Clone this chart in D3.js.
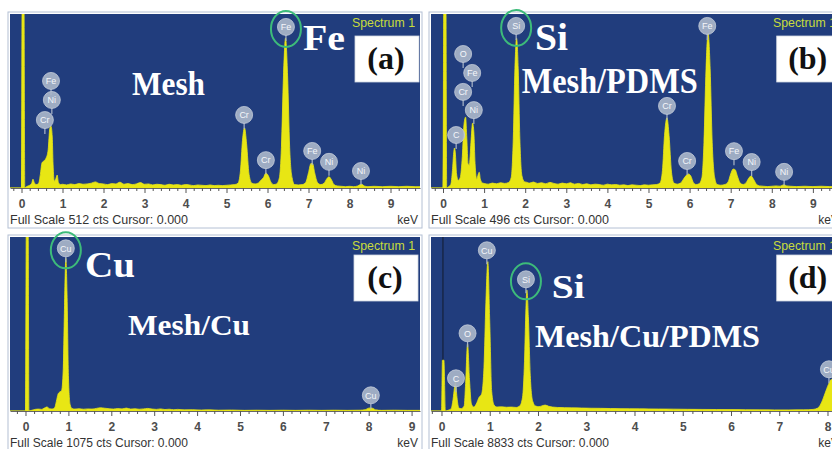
<!DOCTYPE html>
<html>
<head>
<meta charset="utf-8">
<script src="https://cdn.jsdelivr.net/npm/d3@7"></script>
<style>
  html, body { margin: 0; padding: 0; background: #fff; }
  svg { display: block; }
</style>
</head>
<body>
<svg id="chart" width="832" height="449"></svg>
<script>
// ---------- data ----------
const panelTags = ["(a)", "(b)", "(c)", "(d)"];
const sampleNames = ["Mesh", "Mesh/PDMS", "Mesh/Cu", "Mesh/Cu/PDMS"];
const keyElements = ["Fe", "Si", "Cu", "Si"];
const fullScaleCounts = [512, 496, 1075, 8833];
const tickLabels = [0, 1, 2, 3, 4, 5, 6, 7, 8, 9];
const spectrumTitle = "Spectrum 1";

// EDS spectra: [energy keV, counts]
const spectrumA = [
  [-0.28, 0], [0.0, 0], [0.015, 560], [0.06, 560], [0.08, 0], [0.12, 4], [0.2, 8], [0.25, 14],
  [0.28, 26], [0.31, 16], [0.36, 10], [0.42, 14], [0.46, 40], [0.5, 74], [0.55, 80], [0.6, 88],
  [0.65, 112], [0.69, 175], [0.72, 182], [0.75, 150], [0.77, 70], [0.8, 20], [0.84, 28], [0.87, 38],
  [0.9, 16], [0.95, 10],
  [1.0, 11], [1.1, 9], [1.2, 12], [1.3, 10], [1.4, 13], [1.5, 11], [1.6, 12], [1.7, 14], [1.8, 18],
  [1.9, 13], [2.0, 12], [2.1, 10], [2.2, 13], [2.3, 12], [2.4, 17], [2.5, 11], [2.6, 13], [2.7, 10],
  [2.8, 12], [2.9, 16], [3.0, 11], [3.1, 12], [3.2, 9], [3.3, 11], [3.4, 10], [3.5, 8], [3.6, 11],
  [3.7, 9], [3.8, 10], [3.9, 8], [4.0, 10], [4.1, 9], [4.2, 7], [4.3, 9], [4.4, 8], [4.5, 7], [4.6, 9],
  [4.7, 7], [4.8, 8], [4.9, 7], [5.0, 8], [5.1, 9], [5.2, 10],
  [5.28, 14], [5.34, 50], [5.39, 140], [5.44, 177], [5.49, 130], [5.55, 40], [5.62, 14], [5.7, 12],
  [5.78, 15], [5.85, 24], [5.9, 30], [5.96, 44], [6.02, 36], [6.08, 18], [6.15, 10], [6.22, 12],
  [6.29, 30], [6.34, 120], [6.39, 330], [6.44, 441], [6.49, 330], [6.54, 120], [6.6, 30], [6.66, 10],
  [6.75, 9], [6.85, 10], [6.93, 16], [7.0, 45], [7.06, 72], [7.1, 72], [7.15, 45], [7.22, 16],
  [7.3, 10], [7.38, 14], [7.44, 26], [7.5, 33], [7.56, 24], [7.62, 10], [7.7, 6], [7.8, 5], [7.9, 4],
  [8.0, 5], [8.1, 4], [8.2, 6], [8.26, 10], [8.3, 11], [8.36, 6], [8.45, 4], [8.6, 5], [8.8, 4],
  [9.0, 5], [9.2, 4], [9.4, 5], [9.6, 4], [9.72, 4]
];
const spectrumB = [
  [-0.3, 0], [0.0, 0], [0.02, 560], [0.07, 560], [0.09, 0], [0.14, 4], [0.19, 10], [0.23, 50],
  [0.26, 100], [0.28, 114], [0.3, 100], [0.33, 40], [0.37, 22], [0.42, 30], [0.47, 90], [0.51, 180],
  [0.55, 202], [0.58, 140], [0.61, 70], [0.64, 65], [0.68, 130], [0.72, 185], [0.75, 160], [0.78, 70],
  [0.82, 25], [0.86, 40], [0.88, 45], [0.91, 25], [0.96, 14],
  [1.0, 13], [1.1, 11], [1.2, 14], [1.3, 12], [1.4, 15], [1.5, 13], [1.6, 16],
  [1.66, 30], [1.71, 140], [1.75, 340], [1.79, 427], [1.83, 340], [1.87, 140], [1.92, 35], [1.98, 18],
  [2.05, 16], [2.1, 14], [2.2, 17], [2.3, 13], [2.4, 15], [2.5, 12], [2.6, 16], [2.7, 13], [2.8, 11],
  [2.9, 14], [3.0, 12], [3.1, 15], [3.2, 11], [3.3, 13], [3.4, 10], [3.5, 12], [3.6, 9], [3.7, 11],
  [3.8, 10], [3.9, 8], [4.0, 11], [4.1, 9], [4.2, 10], [4.3, 8], [4.4, 9], [4.5, 7], [4.6, 9], [4.7, 8],
  [4.8, 7], [4.9, 9], [5.0, 8], [5.1, 9], [5.2, 10],
  [5.28, 14], [5.34, 50], [5.39, 150], [5.45, 200], [5.5, 150], [5.56, 45], [5.62, 14], [5.7, 11],
  [5.78, 14], [5.85, 25], [5.92, 36], [5.97, 40], [6.03, 34], [6.09, 16], [6.16, 10], [6.23, 12],
  [6.3, 30], [6.35, 130], [6.4, 340], [6.45, 442], [6.5, 340], [6.55, 130], [6.61, 30], [6.67, 10],
  [6.76, 8], [6.86, 10], [6.94, 18], [7.0, 40], [7.06, 54], [7.11, 52], [7.16, 35], [7.23, 14],
  [7.3, 10], [7.38, 16], [7.45, 30], [7.5, 34], [7.56, 24], [7.63, 10], [7.7, 6], [7.8, 5], [7.9, 4],
  [8.0, 5], [8.1, 6], [8.2, 5], [8.26, 8], [8.3, 9], [8.36, 6], [8.45, 5], [8.6, 4], [8.8, 5],
  [9.0, 4], [9.2, 5], [9.4, 4], [9.7, 4]
];
const spectrumC = [
  [-0.37, 0], [0.0, 0], [0.02, 1200], [0.06, 1200], [0.08, 0], [0.14, 4], [0.22, 10], [0.3, 12],
  [0.38, 10], [0.44, 18], [0.5, 25], [0.56, 14], [0.62, 12], [0.68, 20], [0.72, 60], [0.76, 105],
  [0.8, 118], [0.84, 125], [0.88, 260], [0.91, 650], [0.94, 943], [0.97, 700], [1.0, 220], [1.04, 40],
  [1.08, 16],
  [1.15, 12], [1.25, 14], [1.35, 11], [1.45, 13], [1.55, 12], [1.65, 16], [1.75, 20], [1.85, 17],
  [1.95, 14], [2.05, 12], [2.15, 15], [2.25, 13], [2.35, 18], [2.45, 12], [2.55, 14], [2.65, 11],
  [2.75, 13], [2.85, 16], [2.95, 12], [3.05, 10], [3.15, 13], [3.25, 9], [3.35, 11], [3.45, 8],
  [3.55, 10], [3.7, 7], [3.9, 8], [4.1, 6], [4.3, 7], [4.5, 5], [4.8, 6], [5.1, 4], [5.4, 5], [5.7, 4],
  [6.0, 5], [6.3, 4], [6.6, 5], [6.9, 4], [7.2, 5], [7.5, 4], [7.8, 5], [7.92, 8], [7.98, 16],
  [8.04, 19], [8.1, 16], [8.16, 7], [8.3, 4], [8.6, 5], [8.9, 4], [9.2, 4]
];
const spectrumD = [
  [-0.22, 0], [0.0, 0], [0.02, 2580], [0.05, 2580], [0.08, 0], [0.14, 40], [0.2, 120], [0.24, 600],
  [0.27, 1200], [0.29, 1475], [0.32, 700], [0.36, 150], [0.41, 120], [0.47, 250], [0.5, 1400],
  [0.54, 3420], [0.58, 1600], [0.62, 350], [0.67, 200], [0.72, 350], [0.78, 700], [0.83, 850],
  [0.88, 2200], [0.92, 5500], [0.96, 7580], [1.0, 4500], [1.04, 1000], [1.09, 300], [1.15, 200],
  [1.25, 210], [1.35, 190], [1.45, 200], [1.55, 180],
  [1.62, 250], [1.68, 700], [1.72, 2500], [1.75, 5200], [1.77, 6140], [1.8, 4800], [1.84, 1800],
  [1.89, 500], [1.95, 250],
  [2.02, 220], [2.08, 260], [2.15, 300], [2.22, 240], [2.3, 200], [2.4, 180], [2.55, 170], [2.7, 160],
  [2.9, 150], [3.1, 140], [3.3, 135], [3.5, 125], [3.7, 120], [3.9, 115], [4.1, 110], [4.3, 105],
  [4.5, 100], [4.8, 95], [5.1, 85], [5.4, 80], [5.7, 75], [6.0, 70], [6.3, 65], [6.6, 60], [6.9, 55],
  [7.2, 55], [7.5, 60], [7.7, 80], [7.8, 150], [7.88, 450], [7.95, 900], [8.02, 1350], [8.08, 1600],
  [8.14, 1550], [8.2, 1000], [8.28, 400]
];

// Peak identification markers: [element, energy keV, marker height in counts]
const peakLabelsA = [
  ["Fe", 0.72, 315], ["Ni", 0.74, 259], ["Cr", 0.57, 200], ["Cr", 5.43, 215], ["Cr", 5.96, 82],
  ["Fe", 6.45, 474], ["Fe", 7.09, 109], ["Ni", 7.50, 77], ["Ni", 8.28, 50]
];
const peakLabelsB = [
  ["O", 0.49, 382], ["Fe", 0.71, 328], ["Cr", 0.49, 274], ["Ni", 0.75, 222], ["C", 0.32, 151],
  ["Si", 1.78, 462], ["Cr", 5.45, 234], ["Cr", 5.94, 77], ["Fe", 6.43, 462], ["Fe", 7.08, 105],
  ["Ni", 7.51, 74], ["Ni", 8.30, 46]
];
const peakLabelsC = [["Cu", 0.94, 1005], ["Cu", 8.05, 97]];
const peakLabelsD = [
  ["Cu", 0.94, 8158], ["Si", 1.75, 6686], ["O", 0.54, 3944], ["C", 0.30, 1660], ["Cu", 8.03, 2117]
];
// index of the highlighted (circled) marker in each panel
const keyLabelIndex = [5, 5, 0, 1];

// ---------- layout ----------
const W = 410, H = 174;
const panels = [
  { x: 10,  y: 14,  kev: [-0.2805, 9.7195], spec: spectrumA, labels: peakLabelsA,
    sym: { x: 293, y: 36, size: 35, len: 42 }, name: { x: 122, y: 81, size: 34, len: 73 },
    box: { x: 345, y: 22 }, scaleText: "Full Scale 512 cts Cursor: 0.000" },
  { x: 431, y: 14,  kev: [-0.292, 9.684], spec: spectrumB, labels: peakLabelsB,
    sym: { x: 104, y: 36, size: 38, len: 33 }, name: { x: 90.7, y: 79.3, size: 36, len: 176 },
    box: { x: 345.7, y: 22 }, scaleText: "Full Scale 496 cts Cursor: 0.000" },
  { x: 10,  y: 237, kev: [-0.3613, 9.196], spec: spectrumC, labels: peakLabelsC,
    sym: { x: 75, y: 39.7, size: 35, len: 50 }, name: { x: 118, y: 98, size: 30, len: 122 },
    box: { x: 344, y: 18 }, scaleText: "Full Scale 1075 cts Cursor: 0.000" },
  { x: 431, y: 237, kev: [-0.2176, 8.28], spec: spectrumD, labels: peakLabelsD,
    sym: { x: 120.7, y: 61, size: 33, len: 33 }, name: { x: 104, y: 109.7, size: 32, len: 225 },
    box: { x: 345.7, y: 18 }, scaleText: "Full Scale 8833 cts Cursor: 0.000" }
];

const serif = "'Liberation Serif', 'Times New Roman', serif";
const sans = "'Liberation Sans', Arial, sans-serif";
const BG = "#213d7d", YELLOW = "#e8e614", RING = "#3dbb7a";

const svg = d3.select("#chart");
svg.append("rect").attr("width", 832).attr("height", 449).attr("fill", "#fff");

panels.forEach((p, i) => {
  const g = svg.append("g").attr("transform", `translate(${p.x},${p.y})`);

  // panel frame and plot background
  g.append("rect").attr("x", -2).attr("y", -2).attr("width", W + 4).attr("height", 216)
    .attr("fill", "#fff").attr("stroke", "#b4c0d4").attr("stroke-width", 1);
  g.append("rect").attr("width", W).attr("height", H).attr("fill", BG);

  const x = d3.scaleLinear().domain(p.kev).range([0, W]);
  const y = d3.scaleLinear().domain([0, fullScaleCounts[i]]).range([H, 0]);

  const clipId = "clip" + i;
  g.append("clipPath").attr("id", clipId).append("rect").attr("width", W).attr("height", H);
  const plot = g.append("g").attr("clip-path", `url(#${clipId})`);

  // cursor at 0.000 keV
  plot.append("line").attr("x1", x(0.03)).attr("x2", x(0.03)).attr("y1", 0).attr("y2", H)
    .attr("stroke", "#15203a").attr("stroke-width", 1.2);

  // spectrum
  const area = d3.area().x(d => x(d[0])).y0(H).y1(d => y(d[1])).curve(d3.curveMonotoneX);
  plot.append("path").datum(p.spec).attr("d", area)
    .attr("fill", YELLOW).attr("stroke", YELLOW).attr("stroke-width", 0.8);

  // big annotations
  g.append("text").attr("x", p.sym.x).attr("y", p.sym.y).text(keyElements[i])
    .attr("font-family", serif).attr("font-weight", "bold").attr("font-size", p.sym.size)
    .attr("textLength", p.sym.len).attr("lengthAdjust", "spacingAndGlyphs").attr("fill", "#fff");
  g.append("text").attr("x", p.name.x).attr("y", p.name.y).text(sampleNames[i])
    .attr("font-family", serif).attr("font-weight", "bold").attr("font-size", p.name.size)
    .attr("textLength", p.name.len).attr("lengthAdjust", "spacingAndGlyphs").attr("fill", "#fff");

  // spectrum title and panel tag box
  g.append("text").attr("x", 342).attr("y", 13).text(spectrumTitle)
    .attr("font-family", sans).attr("font-size", 12).attr("fill", "#c8dc3c")
    .attr("textLength", 63).attr("lengthAdjust", "spacingAndGlyphs");
  g.append("rect").attr("x", p.box.x).attr("y", p.box.y).attr("width", 64).attr("height", 46)
    .attr("fill", "#fff").attr("stroke", "#d0d6e0").attr("stroke-width", 0.8);
  g.append("text").attr("x", p.box.x + 31).attr("y", p.box.y + 33).text(panelTags[i])
    .attr("text-anchor", "middle").attr("font-family", serif).attr("font-weight", "bold")
    .attr("font-size", 32).attr("fill", "#111");

  // peak markers
  const lab = plot.append("g");
  p.labels.forEach(([el, kev, cts]) => {
    const cx = x(kev), cy = y(cts);
    lab.append("line").attr("x1", cx).attr("x2", cx).attr("y1", cy + 8).attr("y2", cy + 14)
      .attr("stroke", "#aab6c8").attr("stroke-width", 1.2);
    lab.append("circle").attr("cx", cx).attr("cy", cy).attr("r", 8.5)
      .attr("fill", "#a9b5c9").attr("fill-opacity", 0.92).attr("stroke", "#c3ccd9").attr("stroke-width", 0.8);
    lab.append("text").attr("x", cx).attr("y", cy + 3.3).text(el)
      .attr("text-anchor", "middle").attr("font-family", sans).attr("font-size", 9)
      .attr("fill", "#f4f6fa");
  });
  const key = p.labels[keyLabelIndex[i]];
  g.append("ellipse").attr("cx", x(key[1])).attr("cy", y(key[2]) + 2).attr("rx", 15).attr("ry", 18)
    .attr("fill", "none").attr("stroke", RING).attr("stroke-width", 2);

  // energy axis
  const majors = tickLabels.filter(t => t <= p.kev[1]);
  const minors = d3.range(-2, Math.floor(p.kev[1] * 5) + 1).map(k => k / 5)
    .filter(t => t >= p.kev[0] && t <= p.kev[1] && Math.abs(t - Math.round(t)) > 1e-6);
  const axMinor = g.append("g").attr("transform", `translate(0,${H})`)
    .call(d3.axisBottom(x).tickValues(minors).tickSize(3).tickSizeOuter(0).tickFormat(""));
  axMinor.select(".domain").attr("stroke", "#666");
  axMinor.selectAll(".tick line").attr("stroke", "#555");
  const axMajor = g.append("g").attr("transform", `translate(0,${H})`)
    .call(d3.axisBottom(x).tickValues(majors).tickSize(5).tickPadding(6).tickSizeOuter(0).tickFormat(d3.format("d")));
  axMajor.select(".domain").remove();
  axMajor.selectAll(".tick line").attr("stroke", "#555");
  axMajor.selectAll(".tick text").attr("font-family", sans).attr("font-weight", "bold")
    .attr("font-size", 12).attr("fill", "#4d4d4d");

  g.append("text").attr("x", 0).attr("y", 210).text(p.scaleText)
    .attr("font-family", sans).attr("font-size", 12).attr("fill", "#333")
    .attr("textLength", 178).attr("lengthAdjust", "spacingAndGlyphs");
  g.append("text").attr("x", 408).attr("y", 210).text("keV").attr("text-anchor", "end")
    .attr("font-family", sans).attr("font-size", 12).attr("fill", "#333");
});
</script>
</body>
</html>
